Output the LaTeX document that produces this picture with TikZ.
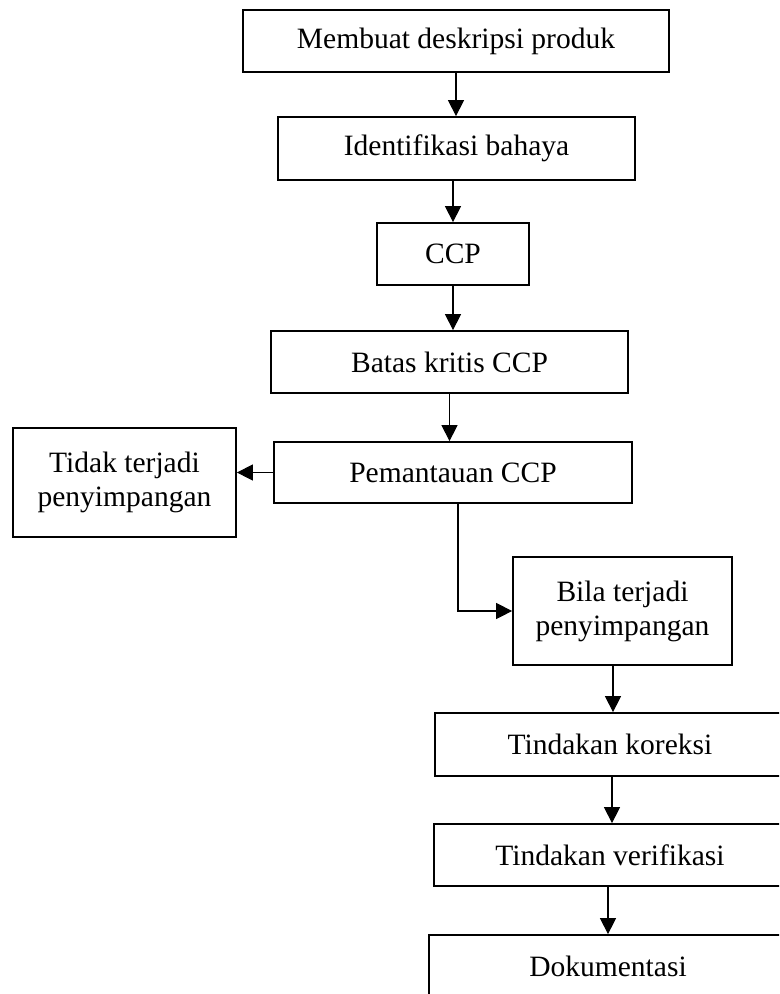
\documentclass[tikz,border=0pt]{standalone}
\usepackage{fontspec}
\setmainfont{Liberation Serif}
\usetikzlibrary{
    arrows.meta,
    positioning,
    calc
}

\begin{document}
\begin{tikzpicture}[
        x=0.02cm, y=-0.02cm,
        box/.style={draw, line width=1pt, align=center, inner sep=2pt,
            font=\fontsize{16.8}{19.4}\selectfont},
        arrow/.style={-{Triangle[length=0.32cm, width=0.32cm]}, line width=0.6pt}
    ]
        \useasboundingbox (0,0) rectangle (779,994);
        \clip (0,0) rectangle (779,994);

        % Main column
        \node[box, minimum width=8.52cm, minimum height=1.24cm] (desc) at (456, 41) {Membuat deskripsi produk};
        \node[box, minimum width=7.14cm, minimum height=1.26cm] (bahaya) at (456.5, 148.5) {Identifikasi bahaya};
        \node[box, minimum width=3.04cm, minimum height=1.24cm] (ccp) at (453, 254) {CCP};
        \node[box, minimum width=7.14cm, minimum height=1.24cm] (batas) at (449.5, 362) {Batas kritis CCP};
        \node[box, minimum width=7.16cm, minimum height=1.22cm] (pantau) at (453, 472.5) {Pemantauan CCP};

        % Branches
        \node[box, minimum width=4.46cm, minimum height=2.18cm] (tidak) at (124.5, 482.5) {Tidak terjadi\\penyimpangan};
        \node[box, minimum width=4.38cm, minimum height=2.16cm] (bila) at (622.5, 611) {Bila terjadi\\penyimpangan};

        % Follow-up steps
        \node[box, minimum width=7.00cm, minimum height=1.26cm] (koreksi) at (610, 744.5) {Tindakan koreksi};
        \node[box, minimum width=7.04cm, minimum height=1.24cm] (verif) at (610, 855) {Tindakan verifikasi};
        \node[box, minimum width=7.16cm, minimum height=1.24cm] (dok) at (608, 966) {Dokumentasi};

        % Arrows
        \draw[arrow] (desc.south) -- (desc.south |- bahaya.north);
        \draw[arrow] (ccp.north |- bahaya.south) -- (ccp.north);
        \draw[arrow] (ccp.south) -- (ccp.south |- batas.north);
        \draw[arrow] (batas.south) -- (batas.south |- pantau.north);
        \draw[arrow] (pantau.west) -- (pantau.west -| tidak.east);
        \draw[arrow] ([xshift=0.1cm]pantau.south) |- (bila.west);
        \draw[arrow] ([xshift=0.06cm]koreksi.north |- bila.south) -- ([xshift=0.06cm]koreksi.north);
        \draw[arrow] ([xshift=0.04cm]koreksi.south) -- ([xshift=0.04cm]koreksi.south |- verif.north);
        \draw[arrow] (dok.north |- verif.south) -- (dok.north);
    \end{tikzpicture}
\end{document}
